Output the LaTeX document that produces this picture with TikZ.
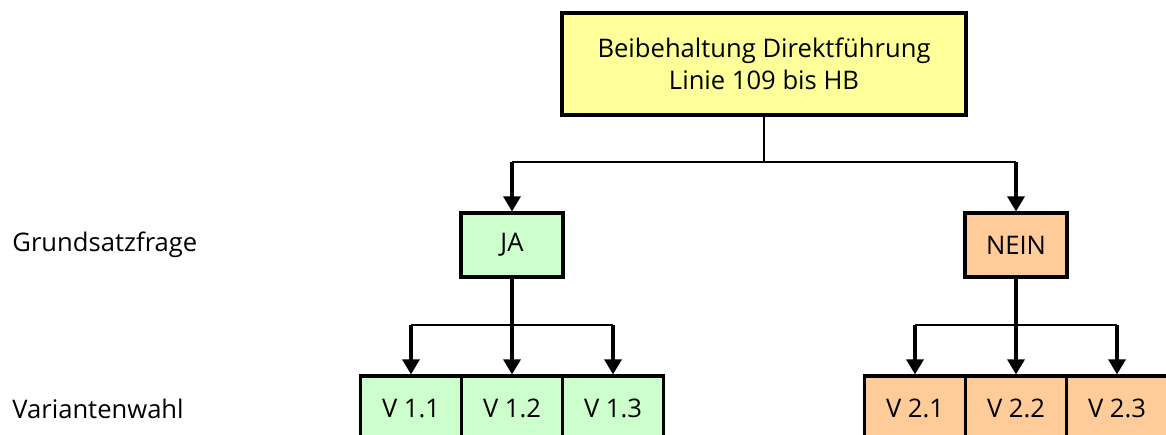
\documentclass[tikz,border=0pt]{standalone}
\usepackage{fontspec}
\setmainfont{Open Sans}
\usetikzlibrary{arrows.meta}
\definecolor{topyellow}{HTML}{FFFF99}
\definecolor{jagreen}{HTML}{CCFFCC}
\definecolor{neinorange}{HTML}{FFCC99}
\begin{document}
\begin{tikzpicture}[x=0.5pt,y=-0.5pt,
  box/.style={draw=black,line width=1.6pt,inner sep=0pt,align=center,
    font=\fontsize{12.8}{16}\selectfont},
  topbox/.style={box,fill=topyellow,minimum width=202pt,minimum height=51pt},
  decbox/.style={box,minimum width=51pt,minimum height=32pt},
  varbox/.style={box,minimum width=50.5pt,minimum height=32.5pt},
  thinline/.style={line width=0.8pt},
  arrowline/.style={line width=1.6pt,-{Triangle[length=7.5pt,width=8.5pt]}},
  rowlabel/.style={anchor=west,inner sep=0pt,font=\fontsize{12.8}{16}\selectfont}
]
\useasboundingbox (0,0) rectangle (1166,434);
\clip (0,0) rectangle (1166,434);
\fill[white] (0,0) rectangle (1166,434);

\node[topbox] (top) at (764,64) {Beibehaltung Direktführung\\Linie 109 bis HB};
\node[decbox,fill=jagreen] (ja) at (512,245) {JA};
\node[decbox,fill=neinorange] (nein) at (1016,245) {NEIN};

\node[varbox,fill=jagreen] (v11) at (411,408.5) {V 1.1};
\node[varbox,fill=jagreen] (v12) at (512,408.5) {V 1.2};
\node[varbox,fill=jagreen] (v13) at (613,408.5) {V 1.3};
\node[varbox,fill=neinorange] (v21) at (915,408.5) {V 2.1};
\node[varbox,fill=neinorange] (v22) at (1016,408.5) {V 2.2};
\node[varbox,fill=neinorange] (v23) at (1117,408.5) {V 2.3};

\node[rowlabel] (lg) at (12,245) {Grundsatzfrage};
\node[rowlabel] (lv) at (12,408.5) {Variantenwahl};

\coordinate (hm) at (764,162);
\coordinate (hl) at (512,162);
\coordinate (hr) at (1016,162);
\draw[thinline] (top.south) -- (hm);
\draw[thinline] (hl) -- (hr);
\draw[arrowline] (hl) -- (ja.north);
\draw[arrowline] (hr) -- (nein.north);

\coordinate (al) at (411,325);
\coordinate (ar) at (613,325);
\draw[thinline] (al) -- (ar);
\draw[arrowline] (ja.south) -- (v12.north);
\draw[arrowline] (al) -- (v11.north);
\draw[arrowline] (ar) -- (v13.north);

\coordinate (bl) at (915,325);
\coordinate (br) at (1117,325);
\draw[thinline] (bl) -- (br);
\draw[arrowline] (nein.south) -- (v22.north);
\draw[arrowline] (bl) -- (v21.north);
\draw[arrowline] (br) -- (v23.north);
\end{tikzpicture}
\end{document}
